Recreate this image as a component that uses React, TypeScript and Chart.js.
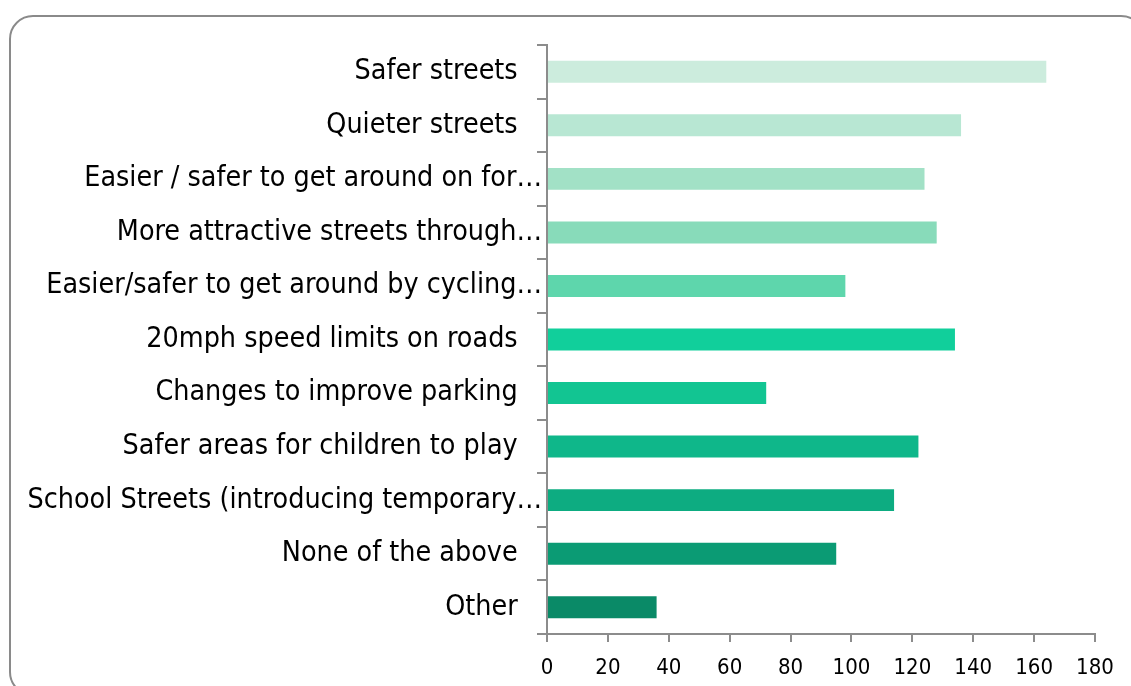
import React, { useEffect, useRef } from "react";
import { Chart, registerables } from "chart.js";

Chart.register(...registerables);

const categories = [
  "Safer streets",
  "Quieter streets",
  "Easier / safer to get around on for…",
  "More attractive streets through…",
  "Easier/safer to get around by cycling…",
  "20mph speed limits on roads",
  "Changes to improve parking",
  "Safer areas for children to play",
  "School Streets (introducing temporary…",
  "None of the above",
  "Other",
];

const values = [164, 136, 124, 128, 98, 134, 72, 122, 114, 95, 36];

const barColors = [
  "#CCECDD",
  "#B8E7D3",
  "#A2E1C6",
  "#88DBBA",
  "#5ED6AC",
  "#11CF9B",
  "#12C592",
  "#0FB78A",
  "#0DAC81",
  "#0B9B74",
  "#0A8A67",
];

const xTicks = [0, 20, 40, 60, 80, 100, 120, 140, 160, 180];

const FONT = "'DejaVu Sans Condensed', 'DejaVu Sans', sans-serif";
const AXIS = "#8c8c8c";

export default function App() {
  const ref = useRef<HTMLCanvasElement | null>(null);

  useEffect(() => {
    if (!ref.current) return;
    const chart = new Chart(ref.current, {
      type: "bar",
      data: {
        labels: categories,
        datasets: [
          {
            data: values,
            backgroundColor: barColors,
            borderWidth: 0,
            barPercentage: 0.41,
            categoryPercentage: 1,
          },
        ],
      },
      options: {
        indexAxis: "y",
        animation: false,
        responsive: false,
        maintainAspectRatio: false,
        layout: { padding: { top: 45, right: 36, left: 0, bottom: 0 } },
        plugins: {
          legend: { display: false },
          tooltip: { enabled: false },
        },
        scales: {
          y: {
            afterFit: (s: any) => {
              s.width = 547;
            },
            grid: {
              drawOnChartArea: false,
              drawTicks: true,
              tickLength: 10,
              color: AXIS,
              lineWidth: 2,
              offset: true,
            },
            border: { display: true, color: AXIS, width: 2 },
            ticks: {
              color: "#000",
              padding: -5,
              autoSkip: false,
              font: { family: FONT, size: 28.4 },
              callback: (_v: any, i: number) => {
                const t = categories[i];
                return t.endsWith("…") ? t : t + "   ";
              },
            },
          },
          x: {
            min: 0,
            max: 180,
            afterFit: (s: any) => {
              s.height = 52;
            },
            afterBuildTicks: (s: any) => {
              s.ticks = xTicks.map((v) => ({ value: v }));
            },
            grid: {
              drawOnChartArea: false,
              drawTicks: true,
              tickLength: 8,
              color: AXIS,
              lineWidth: 2,
            },
            border: { display: true, color: AXIS, width: 2 },
            ticks: {
              color: "#000",
              padding: 13,
              font: { family: FONT, size: 22 },
            },
          },
        },
      },
    });
    return () => chart.destroy();
  }, []);

  return (
    <div
      style={{
        position: "fixed",
        left: 0,
        top: 0,
        width: 1131,
        height: 686,
        overflow: "hidden",
        background: "#fff",
      }}
    >
      <div
        style={{
          position: "absolute",
          left: 9,
          top: 15,
          width: 1136,
          height: 681,
          border: "2px solid #8a8a8a",
          borderRadius: 24,
          boxSizing: "border-box",
        }}
      />
      <canvas
        ref={ref}
        width={1131}
        height={686}
        style={{ position: "absolute", left: 0, top: 0, width: 1131, height: 686 }}
      />
    </div>
  );
}
